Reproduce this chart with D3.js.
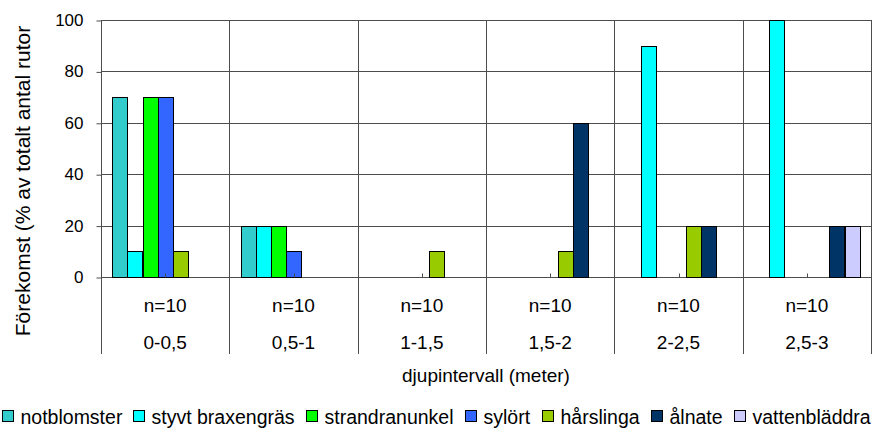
<!DOCTYPE html>
<html>
<head>
<meta charset="utf-8">
<script src="https://cdn.jsdelivr.net/npm/d3@7"></script>
<style>
  html, body { margin: 0; padding: 0; background: #fff; }
  svg { display: block; font-family: "Liberation Sans", Arial, sans-serif; }
</style>
</head>
<body>
<svg id="chart" width="881" height="429"></svg>
<script>
// Depth intervals and sample sizes
const categories = ["0-0,5", "0,5-1", "1-1,5", "1,5-2", "2-2,5", "2,5-3"];
const sampleLabels = ["n=10", "n=10", "n=10", "n=10", "n=10", "n=10"];

// Occurrence (% of total number of plots) per species and depth interval
const species = ["notblomster", "styvt braxengräs", "strandranunkel", "sylört", "hårslinga", "ålnate", "vattenbläddra"];
const notblomster     = [70, 20, 0, 0, 0, 0];
const styvtBraxengras = [10, 20, 0, 0, 90, 100];
const strandranunkel  = [70, 20, 0, 0, 0, 0];
const sylort          = [70, 10, 0, 0, 0, 0];
const harslinga       = [10, 0, 10, 10, 20, 0];
const alnate          = [0, 0, 0, 60, 20, 20];
const vattenbladdra   = [0, 0, 0, 0, 0, 20];
const seriesValues = [notblomster, styvtBraxengras, strandranunkel, sylort, harslinga, alnate, vattenbladdra];
const colors = ["#33CCCC", "#00FFFF", "#00FF00", "#3366FF", "#99CC00", "#003366", "#CCCCFF"];

const yTicks = [0, 20, 40, 60, 80, 100];

const svg = d3.select("#chart");
const plot = { left: 101, right: 871, top: 20, bottom: 277 };
const tableBottom = 354;
const lineColor = "#4d4d4d";

const x = d3.scaleBand().domain(categories).range([plot.left, plot.right]).paddingInner(0).paddingOuter(0);
const xs = d3.scaleBand().domain(species).range([0, x.bandwidth()]).paddingInner(0).paddingOuter(0.75);
const y = d3.scaleLinear().domain([0, 100]).range([plot.bottom, plot.top]);

const crisp = v => Math.round(v) + 0.5;

// Horizontal gridlines
svg.append("g")
  .selectAll("line").data(yTicks).join("line")
  .attr("x1", plot.left).attr("x2", plot.right)
  .attr("y1", d => crisp(y(d))).attr("y2", d => crisp(y(d)))
  .attr("stroke", lineColor).attr("stroke-width", 1);

// Vertical category boundaries (plot area and category table below)
const bounds = categories.map(c => x(c)).concat([plot.right]);
svg.append("g")
  .selectAll("line").data(bounds).join("line")
  .attr("x1", d => crisp(d)).attr("x2", d => crisp(d))
  .attr("y1", plot.top).attr("y2", tableBottom)
  .attr("stroke", lineColor).attr("stroke-width", 1);

// Bars
const groups = svg.append("g").selectAll("g").data(species).join("g")
  .attr("fill", (d, i) => colors[i]);
groups.each(function(s, si) {
  const vals = seriesValues[si];
  d3.select(this).selectAll("rect")
    .data(categories.map((c, ci) => ({ c, v: vals[ci] })).filter(d => d.v > 0))
    .join("rect")
    .attr("x", d => Math.round(x(d.c) + xs(s)) + 0.5)
    .attr("y", d => Math.round(y(d.v)) + 0.5)
    .attr("width", Math.round(xs.bandwidth()))
    .attr("height", d => Math.round(y(0)) - Math.round(y(d.v)))
    .attr("stroke", "#000").attr("stroke-width", 1);
});

// Small tick marks at category centres on the baseline
svg.append("g")
  .selectAll("line").data(categories).join("line")
  .attr("x1", d => crisp(x(d) + x.bandwidth() / 2)).attr("x2", d => crisp(x(d) + x.bandwidth() / 2))
  .attr("y1", crisp(y(0)) - 4).attr("y2", crisp(y(0)))
  .attr("stroke", lineColor);

// Y axis
const yAxis = d3.axisLeft(y).tickValues(yTicks).tickSize(5).tickPadding(13).tickFormat(d3.format("d"));
const yg = svg.append("g").attr("transform", `translate(${crisp(plot.left)},0)`).call(yAxis);
yg.select(".domain").remove();
yg.selectAll(".tick line").attr("stroke", lineColor).attr("y1", 0.5).attr("y2", 0.5);
yg.selectAll(".tick text").attr("font-size", 17).attr("fill", "#000")
  .attr("font-family", "'Liberation Sans', Arial, sans-serif");

// Category table labels
const labels = svg.append("g").attr("font-size", 19).attr("text-anchor", "middle").attr("fill", "#000");
labels.selectAll("text.n").data(categories).join("text").attr("class", "n")
  .attr("x", d => x(d) + x.bandwidth() / 2)
  .attr("y", 305).attr("dominant-baseline", "central")
  .text((d, i) => sampleLabels[i]);
labels.selectAll("text.c").data(categories).join("text").attr("class", "c")
  .attr("x", d => x(d) + x.bandwidth() / 2)
  .attr("y", 342).attr("dominant-baseline", "central")
  .text(d => d);

// Axis titles
svg.append("text")
  .attr("x", (plot.left + plot.right) / 2).attr("y", 375)
  .attr("text-anchor", "middle").attr("dominant-baseline", "central")
  .attr("font-size", 19).text("djupintervall (meter)");

svg.append("text")
  .attr("transform", "translate(22,181) rotate(-90)")
  .attr("text-anchor", "middle").attr("dominant-baseline", "central")
  .attr("font-size", 21).text("Förekomst (% av totalt antal rutor");

// Legend: swatch, label, then spacing to the next entry, centred as a row
const sw = 11, swGap = 7, itemGap = 12;
const legend = svg.append("g").attr("font-size", 19.5);
const items = legend.selectAll("g").data(species).join("g");
items.append("rect")
  .attr("width", sw).attr("height", sw)
  .attr("y", -Math.round(sw / 2))
  .attr("fill", (d, i) => colors[i]).attr("stroke", "#000");
items.append("text")
  .attr("x", sw + swGap).attr("y", 0).attr("dominant-baseline", "central")
  .text(d => d);
let offset = 0;
const positions = [];
items.each(function() {
  const tw = d3.select(this).select("text").node().getComputedTextLength();
  positions.push(offset);
  offset += sw + swGap + tw + itemGap;
});
const totalW = offset - itemGap;
const startX = 436 - totalW / 2;
items.attr("transform", (d, i) => `translate(${Math.round(startX + positions[i]) + 0.5},${416.5})`);
</script>
</body>
</html>
